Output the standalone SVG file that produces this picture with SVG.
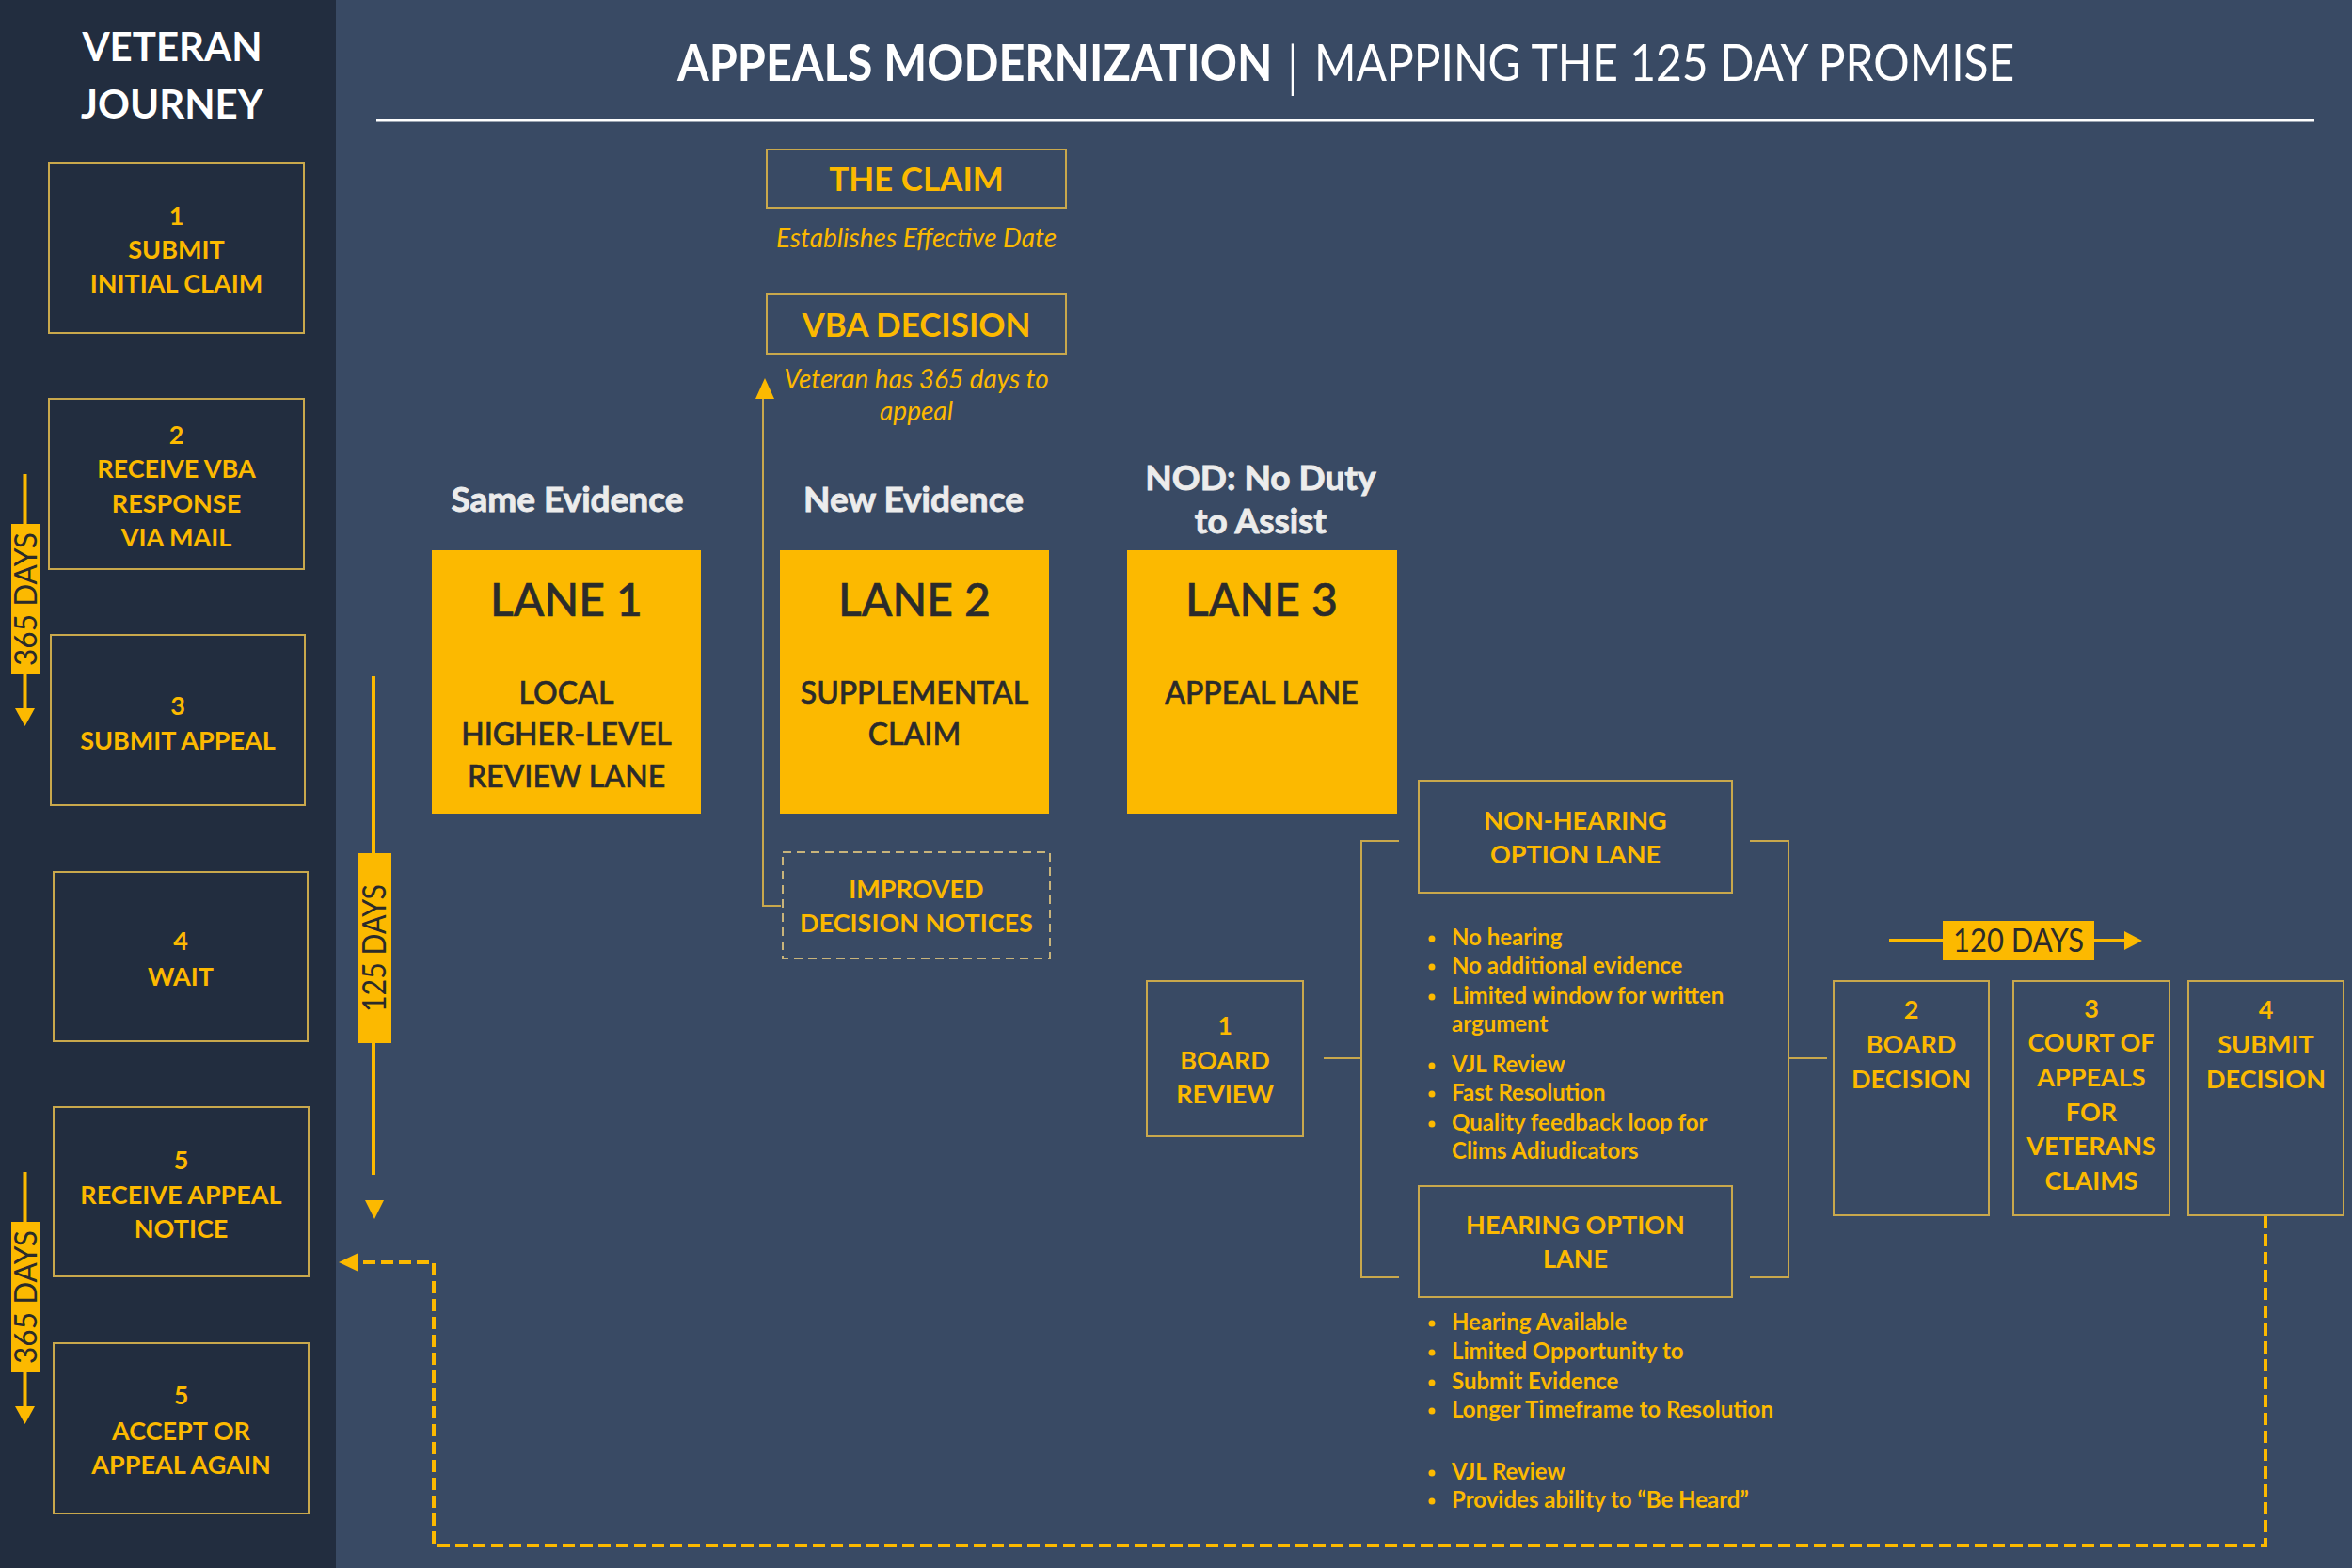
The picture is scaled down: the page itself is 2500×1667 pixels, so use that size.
<svg xmlns="http://www.w3.org/2000/svg" width="2500" height="1667" viewBox="0 0 2500 1667">
<defs>
<style>
text{font-family:Lato,"Open Sans","Liberation Sans",sans-serif}
.bg{fill:#394a64}
.panel{fill:#222d3f}
.box{fill:none;stroke:#c9a84c;stroke-width:2}
.lane{fill:#fcb900}
.y{fill:#fcb900;font-weight:700;text-anchor:middle}
.s27{font-size:27px}
.dk{fill:#2b2b2b;text-anchor:middle}
.ln{font-weight:500;stroke:#2b2b2b;stroke-width:0.6}
.hd{fill:#ececec;stroke:#ececec;stroke-width:0.9;font-weight:700;font-size:37px;text-anchor:middle}
.it{fill:#fcb900;font-style:italic;font-size:28px;text-anchor:middle}
.bl{fill:#fcb900;font-weight:700;font-size:24px}
.thin{fill:none;stroke:#c9a84c;stroke-width:2}
.yl{stroke:#fcb900;stroke-width:4;fill:none}
.ya{fill:#fcb900}
.dash{fill:none;stroke:#fcb900;stroke-width:4;stroke-dasharray:13 6}
</style>
</defs>
<rect class="bg" x="0" y="0" width="2500" height="1667"/>
<rect class="panel" x="0" y="0" width="357" height="1667"/>

<g id="header">
<text x="183" y="65" fill="#ffffff" font-size="42" font-weight="700" text-anchor="middle">VETERAN</text>
<text x="183" y="126" fill="#ffffff" font-size="42" font-weight="700" text-anchor="middle">JOURNEY</text>
<text transform="translate(720,86) scale(0.9,1)" x="0" y="0" fill="#ffffff" font-size="54" font-weight="700">APPEALS MODERNIZATION</text>
<text x="1374" y="92" fill="#ffffff" font-size="60" font-weight="300" text-anchor="middle">|</text>
<text transform="translate(1397,86) scale(0.888,1)" x="0" y="0" fill="#ffffff" font-size="54" font-weight="400">MAPPING THE 125 DAY PROMISE</text>
<line x1="400" y1="128" x2="2460" y2="128" stroke="#ffffff" stroke-width="3"/>
</g>

<g id="step1"><rect class="box" x="52" y="173" width="271" height="181"/>
<text class="y s27" x="187.5" y="239">1</text><text class="y s27" x="187.5" y="275">SUBMIT</text><text class="y s27" x="187.5" y="311">INITIAL CLAIM</text></g>
<g id="step2"><rect class="box" x="52" y="424" width="271" height="181"/>
<text class="y s27" x="187.5" y="472">2</text><text class="y s27" x="187.5" y="508">RECEIVE VBA</text><text class="y s27" x="187.5" y="545">RESPONSE</text><text class="y s27" x="187.5" y="581">VIA MAIL</text></g>
<g id="step3"><rect class="box" x="54" y="675" width="270" height="181"/>
<text class="y s27" x="189" y="760">3</text><text class="y s27" x="189" y="797">SUBMIT APPEAL</text></g>
<g id="step4"><rect class="box" x="57" y="927" width="270" height="180"/>
<text class="y s27" x="192" y="1010">4</text><text class="y s27" x="192" y="1048">WAIT</text></g>
<g id="step5a"><rect class="box" x="57" y="1177" width="271" height="180"/>
<text class="y s27" x="192.5" y="1243">5</text><text class="y s27" x="192.5" y="1280">RECEIVE APPEAL</text><text class="y s27" x="192.5" y="1316">NOTICE</text></g>
<g id="step5b"><rect class="box" x="57" y="1428" width="271" height="181"/>
<text class="y s27" x="192.5" y="1493">5</text><text class="y s27" x="192.5" y="1531">ACCEPT OR</text><text class="y s27" x="192.5" y="1567">APPEAL AGAIN</text></g>

<g id="days365a">
<line class="yl" x1="26.5" y1="504" x2="26.5" y2="755"/>
<polygon class="ya" points="16,753 37,753 26.5,772"/>
<rect class="lane" x="12" y="557" width="31" height="160"/>
<text class="dk" transform="translate(28,637) rotate(-90)" x="0" y="11" font-size="32" textLength="142" lengthAdjust="spacingAndGlyphs">365 DAYS</text>
</g>
<g id="days365b">
<line class="yl" x1="26.5" y1="1246" x2="26.5" y2="1497"/>
<polygon class="ya" points="16,1495 37,1495 26.5,1514"/>
<rect class="lane" x="12" y="1299" width="31" height="160"/>
<text class="dk" transform="translate(28,1379) rotate(-90)" x="0" y="11" font-size="32" textLength="142" lengthAdjust="spacingAndGlyphs">365 DAYS</text>
</g>
<g id="days125">
<line class="yl" x1="397" y1="719" x2="397" y2="1249"/>
<polygon class="ya" points="388,1276 408,1276 398,1296"/>
<rect class="lane" x="380" y="907" width="36" height="202"/>
<text class="dk" transform="translate(398,1008) rotate(-90)" x="0" y="12" font-size="34" textLength="136" lengthAdjust="spacingAndGlyphs">125 DAYS</text>
</g>

<g id="claim"><rect class="box" x="815" y="159" width="318" height="62"/>
<text class="y" x="974" y="203" font-size="35">THE CLAIM</text>
<text class="it" x="974" y="263">Establishes Effective Date</text></g>
<g id="vba"><rect class="box" x="815" y="313" width="318" height="63"/>
<text class="y" x="974" y="358" font-size="35">VBA DECISION</text>
<text class="it" x="974" y="413">Veteran has 365 days to</text>
<text class="it" x="974" y="447">appeal</text></g>

<g id="lane1">
<text class="hd" x="603" y="544">Same Evidence</text>
<rect class="lane" x="459" y="585" width="286" height="280"/>
<text class="dk ln" x="602" y="655" font-size="48">LANE 1</text>
<text class="dk ln" x="602" y="748" font-size="32">LOCAL</text>
<text class="dk ln" x="602" y="792" font-size="32">HIGHER-LEVEL</text>
<text class="dk ln" x="602" y="837" font-size="32">REVIEW LANE</text>
</g>
<g id="lane2">
<text class="hd" x="971" y="544">New Evidence</text>
<rect class="lane" x="829" y="585" width="286" height="280"/>
<text class="dk ln" x="972" y="655" font-size="48">LANE 2</text>
<text class="dk ln" x="972" y="748" font-size="32">SUPPLEMENTAL</text>
<text class="dk ln" x="972" y="792" font-size="32">CLAIM</text>
</g>
<g id="lane3">
<text class="hd" x="1340" y="521">NOD: No Duty</text>
<text class="hd" x="1340" y="567">to Assist</text>
<rect class="lane" x="1198" y="585" width="287" height="280"/>
<text class="dk ln" x="1341" y="655" font-size="48">LANE 3</text>
<text class="dk ln" x="1341" y="748" font-size="32">APPEAL LANE</text>
</g>
<g id="improved"><rect x="832" y="906" width="284" height="113" fill="none" stroke="#c9b47a" stroke-width="2" stroke-dasharray="9 6"/>
<text class="y s27" x="974" y="955">IMPROVED</text><text class="y s27" x="974" y="991">DECISION NOTICES</text></g>

<g id="boardreview"><rect class="box" x="1219" y="1043" width="166" height="165"/>
<text class="y s27" x="1302" y="1100">1</text><text class="y s27" x="1302" y="1137">BOARD</text><text class="y s27" x="1302" y="1173">REVIEW</text></g>

<g id="nonhearing"><rect class="box" x="1508" y="830" width="333" height="119"/>
<text class="y s27" x="1674.5" y="882">NON-HEARING</text><text class="y s27" x="1674.5" y="918">OPTION LANE</text>
<g class="ya"><circle cx="1522" cy="998" r="3.5"/><circle cx="1522" cy="1028" r="3.5"/><circle cx="1522" cy="1060" r="3.5"/><circle cx="1522" cy="1133" r="3.5"/><circle cx="1522" cy="1163" r="3.5"/><circle cx="1522" cy="1195" r="3.5"/></g>
<text class="bl" x="1543" y="1005">No hearing</text>
<text class="bl" x="1543" y="1035">No additional evidence</text>
<text class="bl" x="1543" y="1067">Limited window for written</text>
<text class="bl" x="1543" y="1097">argument</text>
<text class="bl" x="1543" y="1140">VJL Review</text>
<text class="bl" x="1543" y="1170">Fast Resolution</text>
<text class="bl" x="1543" y="1202">Quality feedback loop for</text>
<text class="bl" x="1543" y="1232">Clims Adiudicators</text>
</g>
<g id="hearing"><rect class="box" x="1508" y="1261" width="333" height="118"/>
<text class="y s27" x="1674.5" y="1312">HEARING OPTION</text><text class="y s27" x="1674.5" y="1348">LANE</text>
<g class="ya"><circle cx="1522" cy="1407" r="3.5"/><circle cx="1522" cy="1438" r="3.5"/><circle cx="1522" cy="1470" r="3.5"/><circle cx="1522" cy="1500" r="3.5"/><circle cx="1522" cy="1566" r="3.5"/><circle cx="1522" cy="1596" r="3.5"/></g>
<text class="bl" x="1543" y="1414">Hearing Available</text>
<text class="bl" x="1543" y="1445">Limited Opportunity to</text>
<text class="bl" x="1543" y="1477">Submit Evidence</text>
<text class="bl" x="1543" y="1507">Longer Timeframe to Resolution</text>
<text class="bl" x="1543" y="1573">VJL Review</text>
<text class="bl" x="1543" y="1603">Provides ability to “Be Heard”</text>
</g>

<g id="days120">
<line class="yl" x1="2008" y1="1000" x2="2066" y2="1000"/>
<rect class="lane" x="2065" y="979" width="161" height="42"/>
<text class="dk" x="2145.5" y="1012" font-size="34" textLength="139" lengthAdjust="spacingAndGlyphs">120 DAYS</text>
<line class="yl" x1="2225" y1="1000" x2="2260" y2="1000"/>
<polygon class="ya" points="2258,990 2258,1010 2277,1000"/>
</g>

<g id="boarddecision"><rect class="box" x="1949" y="1043" width="165" height="249"/>
<text class="y s27" x="2031.5" y="1083">2</text><text class="y s27" x="2031.5" y="1120">BOARD</text><text class="y s27" x="2031.5" y="1157">DECISION</text></g>
<g id="court"><rect class="box" x="2140" y="1043" width="166" height="249"/>
<text class="y s27" x="2223" y="1082">3</text><text class="y s27" x="2223" y="1118">COURT OF</text><text class="y s27" x="2223" y="1155">APPEALS</text><text class="y s27" x="2223" y="1192">FOR</text><text class="y s27" x="2223" y="1228">VETERANS</text><text class="y s27" x="2223" y="1265">CLAIMS</text></g>
<g id="submitdecision"><rect class="box" x="2326" y="1043" width="165" height="249"/>
<text class="y s27" x="2408.5" y="1083">4</text><text class="y s27" x="2408.5" y="1120">SUBMIT</text><text class="y s27" x="2408.5" y="1157">DECISION</text></g>

<g id="connectors">
<path class="thin" d="M830 963 H811 V422"/>
<polygon class="ya" points="803,424 823,424 813,402"/>
<line class="thin" x1="1407" y1="1125" x2="1447" y2="1125"/>
<path class="thin" d="M1487 894 H1447 V1358 H1487"/>
<path class="thin" d="M1860 894 H1901 V1358 H1860"/>
<line class="thin" x1="1901" y1="1125" x2="1942" y2="1125"/>
<path class="dash" d="M2408 1293 V1643 H461 V1342 H378"/>
<polygon class="ya" points="381,1332 381,1352 360,1342"/>
</g>
</svg>
